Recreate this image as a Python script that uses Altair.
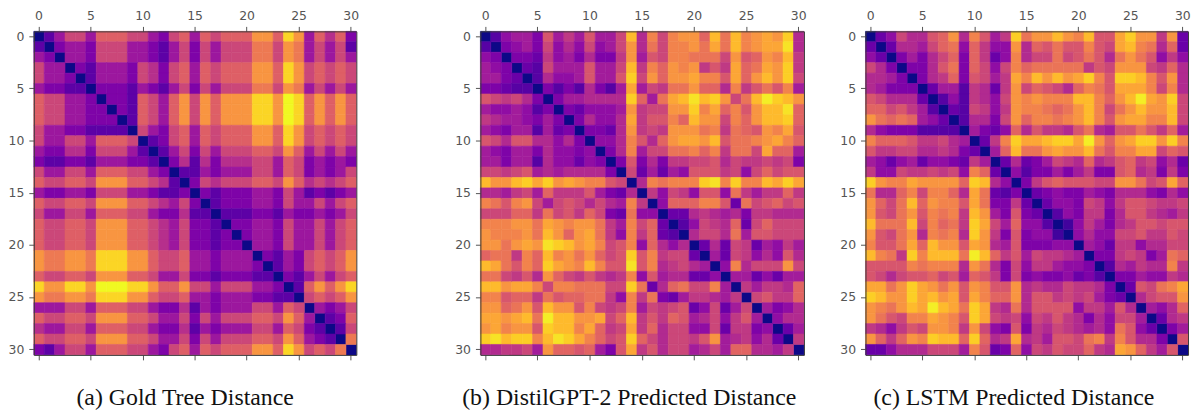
import altair as alt
import pandas as pd

TICKS = [0, 5, 10, 15, 20, 25, 30]
CAPTIONS = ["(a) Gold Tree Distance", "(b) DistilGPT-2 Predicted Distance", "(c) LSTM Predicted Distance"]

# upper triangles: row i holds the values for columns i+1 .. 30
GOLD = [
[2,4,6,6,4,7,7,7,6,6,4,3,6,7,4,7,6,7,7,7,9,9,7,11,9,4,7,5,7,3],
[3,4,4,3,6,6,6,4,4,3,2,4,6,3,6,4,6,6,6,8,8,6,9,8,4,6,4,6,2],
[4,4,3,6,6,6,4,4,3,2,4,6,3,6,4,6,6,6,8,8,6,9,8,4,6,4,6,4],
[3,2,4,4,4,3,6,5,3,6,7,4,7,6,7,7,7,9,9,7,11,9,6,7,6,7,6],
[2,4,4,4,3,6,5,3,6,7,4,7,6,7,7,7,9,9,7,11,9,6,7,6,7,6],
[3,3,3,2,4,3,2,4,6,3,6,4,6,6,6,8,8,6,9,8,4,6,4,6,4],
[3,3,2,7,6,4,7,9,6,9,7,9,9,9,11,11,9,12,11,7,9,7,9,7],
[3,2,7,6,4,7,9,6,9,7,9,9,9,11,11,9,12,11,7,9,7,9,7],
[2,7,6,4,7,9,6,9,7,9,9,9,11,11,9,12,11,7,9,7,9,7],
[6,4,3,6,7,4,7,6,7,7,7,9,9,7,11,9,6,7,6,7,6],
[2,3,6,7,4,7,6,7,7,7,9,9,7,11,9,6,7,6,7,6],
[2,4,6,3,6,4,6,6,6,7,7,6,9,7,4,6,4,6,4],
[3,5,2,5,3,5,5,5,6,6,4,7,6,3,4,3,4,3],
[2,2,4,3,4,4,4,6,6,4,7,6,3,4,3,4,6],
[3,6,5,6,6,6,7,7,6,9,7,5,6,5,6,7],
[3,2,3,3,3,4,4,3,6,4,2,3,2,3,4],
[2,3,3,3,4,4,3,6,4,4,6,4,6,7],
[2,2,2,3,3,2,4,3,3,4,3,4,6],
[3,3,4,4,3,6,4,4,6,4,6,7],
[3,4,4,3,6,4,4,6,4,6,7],
[4,4,3,6,4,4,6,4,6,7],
[3,2,4,3,6,7,6,7,9],
[2,4,3,6,7,6,7,9],
[3,2,4,6,4,6,7],
[2,7,9,7,9,11],
[6,7,6,7,9],
[4,3,4,6],
[2,3,7],
[2,6],
[8],
]

GPT = [
[3,6,7,7,5,11,7,9,7,11,7,7,10,17,8,14,10,14,15,15,12,17,13,17,14,15,16,15,18,8],
[5,6,7,5,10,6,8,6,10,6,7,10,15,8,13,10,14,14,15,13,16,13,17,14,15,16,16,19,8],
[5,5,4,9,6,7,5,8,5,5,9,15,7,11,10,14,14,13,13,13,10,15,11,12,15,14,17,9],
[4,3,10,7,7,7,11,7,7,10,17,9,14,12,15,14,15,9,11,9,16,12,13,16,15,18,9],
[3,8,6,6,7,11,7,7,11,18,10,15,12,15,15,16,14,14,11,16,12,15,17,15,18,10],
[5,3,5,3,8,5,3,7,16,7,10,9,13,13,15,12,12,8,14,9,11,13,11,14,7],
[5,7,7,8,8,8,8,18,12,7,13,16,17,19,17,18,15,10,13,17,19.5,18,17,15],
[5,4,6,6,6,7,15,9,10,10,15,15,18,14,16,12,14,11,15,17,17,19,12],
[5,8,6,6,8,16,9,11,11,14,12,17,15,15,10,14,12,15,17,17,18,12],
[5,5,4,8,15,9,10,9,15,15,15,13,14,9,13,12,11,15,14,16,11],
[6,6,8,14,11,8,12,15,16,16,15,17,11,13,13,14,15,16,14,12],
[5,8,14,7,10,10,13,13,14,12,14,9,13,13,10,16,12,12,7],
[5,11,5,8,5,9,9,10,10,11,8,10,9,9,10,9,10,5],
[10,4,7,4,7,6,11,11,11,9,10,6,10,12,10,11,11],
[8,14,13,14,14,14,18,19,14,18,14,14,17,16,18,16],
[9,6,10,9,6,11,11,6,13,9,7,9,9,12,9],
[6,12,12,12,14,14,11,4,13,10,11,12,10,11],
[4,4,8,9,8,7,8,5,9,9,8,8,8],
[3,6,10,9,8,12,4,10,12,10,10,10],
[8,10,10,8,13,7,11,11,10,10,10],
[4,8,4,10,9,4,7,6,9,7],
[7,4,10,9,6,8,6,11,8],
[6,14,8,10,10,10,15,10],
[7,7,4,6,4,7,7],
[9,7,9,9,8,12],
[10,11,9,9,12],
[7,5,6,8],
[6,8,8],
[4,7],
[9],
]

LSTM = [
[4,6,10,8,8,11,12,15,8,14,11,7,9,18,13,15,15,17,15,14,17,11,11,16,18,15,15,9,15,4],
[4,8,8,7,10,12,13,6,12,9,6,6,15,8,12,11,13,11,11,14,11,10,16,17,14,13,8,12,4],
[5,7,5,8,10,12,5,12,9,4,6,14,8,10,10,13,10,11,13,11,8,13,15,13,11,6,9,6],
[5,5,8,11,13,5,12,10,6,10,14,12,13,13,13,13,13,9,11,10,15,15,15,10,9,12,8],
[5,8,9,12,5,11,10,7,9,16,14,17,15,17,15,16,18,14,11,18,18,17,14,11,15,8],
[4,7,7,3,9,8,4,9,15,10,12,11,10,8,12,14,13,11,16,16,16,14,10,14,8],
[3,6,3,9,8,6,10,15,14,15,14,14,14,17,17,14,12,15,17,19.5,16,15,18,10],
[4,3,10,9,6,9,15,14,14,13,12,13,15,17,14,10,13,15,17,15,15,17,10],
[3,8,8,5,10,15,12,14,14,13,14,15,17,14,11,15,16,16,14,14,17,10],
[7,5,4,6,12,8,11,9,9,8,11,13,8,7,11,11,13,11,9,12,7],
[4,9,14,18,16,16,17,18,18,16,19.5,15,12,15,16,18,18,15,18,14],
[7,12,17,13,13,15,16,15,15,17,13,11,14,14,16,16,10,12,11],
[4,8,4,5,7,10,9,8,12,8,9,11,12,9,10,6,8,4],
[6,3,5,5,7,5,7,9,5,5,11,12,8,9,5,9,5],
[5,9,11,12,11,11,11,10,10,15,15,13,10,11,16,12],
[4,5,6,5,5,7,6,5,8,8,8,6,5,8,6],
[4,6,6,5,10,9,6,9,11,11,10,9,9,10],
[3,6,5,9,9,5,8,11,11,9,8,7,9],
[2,6,9,7,5,8,9,11,11,10,11,11],
[6,8,6,6,10,10,11,9,9,11,10],
[7,6,4,9,9,6,8,8,10,10],
[5,5,9,10,9,5,7,13,12],
[3,8,7,9,8,8,14,9],
[5,5,7,6,6,9,8],
[4,11,10,13,14,16],
[8,10,11,11,15],
[7,6,8,12],
[4,8,9],
[5,7],
[11],
]


def frame(tri, top):
    rows = []
    for r in range(31):
        rows.append({"r": r, "c": r, "v": 0.0})
    for r, vals in enumerate(tri):
        assert len(vals) == 30 - r, (r, len(vals))
        for k, v in enumerate(vals):
            c = r + 1 + k
            rows.append({"r": r, "c": c, "v": v / top})
            rows.append({"r": c, "c": r, "v": v / top})
    return pd.DataFrame(rows)


def panel(tri, top, caption, width=325, dx=-13):
    df = frame(tri, top)
    common = dict(
        tickColor="#555555", tickSize=5, tickWidth=1, grid=False,
        domain=True, domainColor="#3a3a3a", domainWidth=1, zindex=1,
        labelColor="#555555", labelFont="DejaVu Sans", labelFontSize=12.5,
        labelAngle=0, title=None, values=TICKS,
    )
    band = alt.Scale(paddingInner=0, paddingOuter=0)
    color = alt.Color("v:Q", legend=None,
                      scale=alt.Scale(scheme="plasma", domain=[0, 1]))
    stroke = alt.Stroke("v:Q", legend=None,
                        scale=alt.Scale(scheme="plasma", domain=[0, 1]))
    grid = alt.Chart(df).mark_rect(strokeWidth=0.6).encode(
        x=alt.X("c:O", axis=alt.Axis(orient="top", labelPadding=4, **common), scale=band),
        y=alt.Y("r:O", axis=alt.Axis(orient="left", labelPadding=5, **common), scale=band),
        color=color, stroke=stroke,
    )
    bottom_opts = dict(common, labels=False, labelPadding=0)
    right_opts = dict(common, labels=False, labelPadding=0, ticks=False)
    under = alt.Chart(df).mark_rect(opacity=0).encode(
        x=alt.X("c:O", axis=alt.Axis(orient="bottom", **bottom_opts), scale=band),
        y=alt.Y("r:O", axis=alt.Axis(orient="right", **right_opts), scale=band),
        color=color,
    )
    return alt.layer(under, grid).resolve_axis(x="independent", y="independent").properties(
        width=width, height=326,
        title=alt.TitleParams(
            caption, orient="bottom", font="Liberation Serif", fontSize=24,
            fontWeight="normal", color="#111111", anchor="middle", offset=26, dx=dx,
        ),
    )


a = panel(GOLD, 12, CAPTIONS[0], dx=-10)
b = panel(GPT, 20, CAPTIONS[1], width=326)
c = panel(LSTM, 20, CAPTIONS[2])

chart = (
    alt.hconcat(alt.hconcat(a, b, spacing=96), c, spacing=33)
    .properties(padding={"left": 0, "top": 0, "right": 0, "bottom": 0})
    .configure_view(stroke=None)
    .configure_concat(spacing=30)
)
chart.save("out.html", embed_options={"renderer": "svg", "actions": False})
